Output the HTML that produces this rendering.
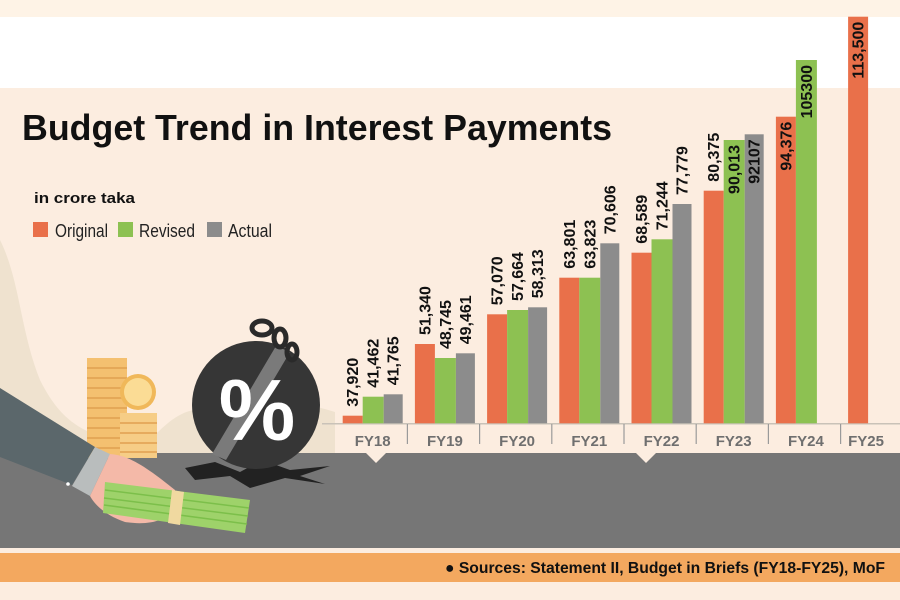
<!DOCTYPE html>
<html><head><meta charset="utf-8"><style>
html,body{margin:0;padding:0;background:#fcede0;}
svg{display:block;}
text{font-family:"Liberation Sans",Arial,sans-serif;}
</style></head><body>
<svg width="900" height="600" viewBox="0 0 900 600" xmlns="http://www.w3.org/2000/svg">
<rect width="900" height="600" fill="#fcede0"/>
<rect width="900" height="17" fill="#fef3e6"/>
<rect y="17" width="900" height="71" fill="#ffffff"/>

<path d="M0,240 C20,280 20,330 40,380 C60,420 80,430 110,440 L0,460 Z" fill="#efe2cf"/>
<path d="M150,440 C170,420 185,405 215,410 C250,400 300,400 335,412 L335,455 L150,455 Z" fill="#efe2cf"/>

<text x="22" y="140" font-size="36" font-weight="bold" fill="#111" textLength="590" lengthAdjust="spacingAndGlyphs">Budget Trend in Interest Payments</text>
<text x="34" y="203" font-size="15" font-weight="bold" fill="#111" textLength="101" lengthAdjust="spacingAndGlyphs">in crore taka</text>
<rect x="33" y="222" width="15" height="15" fill="#e9704a"/>
<text x="55" y="237" font-size="18" fill="#222" textLength="53" lengthAdjust="spacingAndGlyphs">Original</text>
<rect x="118" y="222" width="15" height="15" fill="#8dc152"/>
<text x="139" y="237" font-size="18" fill="#222" textLength="56" lengthAdjust="spacingAndGlyphs">Revised</text>
<rect x="207" y="222" width="15" height="15" fill="#8c8c8c"/>
<text x="228" y="237" font-size="18" fill="#222" textLength="44" lengthAdjust="spacingAndGlyphs">Actual</text>

<line x1="322" y1="423.8" x2="900" y2="423.8" stroke="#c9c2b8" stroke-width="1.5"/>
<g stroke="#9a9a9a" stroke-width="1.2">
<line x1="407.4" y1="424" x2="407.4" y2="444"/><line x1="479.6" y1="424" x2="479.6" y2="444"/>
<line x1="551.8" y1="424" x2="551.8" y2="444"/><line x1="624" y1="424" x2="624" y2="444"/>
<line x1="696.2" y1="424" x2="696.2" y2="444"/><line x1="768.4" y1="424" x2="768.4" y2="444"/>
<line x1="840.6" y1="424" x2="840.6" y2="444"/>
</g>

<g fill="#e9704a">
<rect x="342.7" y="415.7" width="20" height="7.6"/>
<rect x="414.9" y="344" width="20" height="79.3"/>
<rect x="487.1" y="314.3" width="20" height="109"/>
<rect x="559.3" y="277.7" width="20" height="145.6"/>
<rect x="631.5" y="252.7" width="20" height="170.6"/>
<rect x="703.7" y="190.7" width="20" height="232.6"/>
<rect x="775.9" y="116.7" width="20" height="306.6"/>
<rect x="848.1" y="16.7" width="20" height="406.6"/>
</g>
<g fill="#8dc152">
<rect x="362.7" y="396.7" width="21" height="26.6"/>
<rect x="434.9" y="358" width="21" height="65.3"/>
<rect x="507.1" y="310" width="21" height="113.3"/>
<rect x="579.3" y="277.7" width="21" height="145.6"/>
<rect x="651.5" y="239.3" width="21" height="184"/>
<rect x="723.7" y="140" width="21" height="283.3"/>
<rect x="795.9" y="60" width="21" height="363.3"/>
</g>
<g fill="#8c8c8c">
<rect x="383.7" y="394.3" width="19" height="29"/>
<rect x="455.9" y="353.3" width="19" height="70"/>
<rect x="528.1" y="307.3" width="19" height="116"/>
<rect x="600.3" y="243.3" width="19" height="180"/>
<rect x="672.5" y="204" width="19" height="219.3"/>
<rect x="744.7" y="134.3" width="19" height="289"/>
</g>

<g font-size="16" font-weight="bold" fill="#111">
<text transform="translate(358.2,406.7) rotate(-90)">37,920</text>
<text transform="translate(378.7,387.7) rotate(-90)">41,462</text>
<text transform="translate(398.7,385.3) rotate(-90)">41,765</text>
<text transform="translate(430.4,335) rotate(-90)">51,340</text>
<text transform="translate(450.9,349) rotate(-90)">48,745</text>
<text transform="translate(470.9,344.3) rotate(-90)">49,461</text>
<text transform="translate(502.6,305.3) rotate(-90)">57,070</text>
<text transform="translate(523.1,301) rotate(-90)">57,664</text>
<text transform="translate(543.1,298.3) rotate(-90)">58,313</text>
<text transform="translate(574.8,268.7) rotate(-90)">63,801</text>
<text transform="translate(595.3,268.7) rotate(-90)">63,823</text>
<text transform="translate(615.3,234.3) rotate(-90)">70,606</text>
<text transform="translate(647,243.7) rotate(-90)">68,589</text>
<text transform="translate(667.5,230.3) rotate(-90)">71,244</text>
<text transform="translate(687.5,195) rotate(-90)">77,779</text>
<text transform="translate(719.2,181.7) rotate(-90)">80,375</text>
<text transform="translate(739.7,145) rotate(-90)" text-anchor="end">90,013</text>
<text transform="translate(759.7,139.3) rotate(-90)" text-anchor="end">92107</text>
<text transform="translate(791.4,121.7) rotate(-90)" text-anchor="end">94,376</text>
<text transform="translate(811.9,65) rotate(-90)" text-anchor="end">105300</text>
<text transform="translate(863.6,21.7) rotate(-90)" text-anchor="end">113,500</text>
</g>

<g font-size="15" font-weight="bold" fill="#6f6f6f" text-anchor="middle">
<text x="372.7" y="446">FY18</text><text x="444.9" y="446">FY19</text>
<text x="517.1" y="446">FY20</text><text x="589.3" y="446">FY21</text>
<text x="661.5" y="446">FY22</text><text x="733.7" y="446">FY23</text>
<text x="805.9" y="446">FY24</text><text x="866" y="446">FY25</text>
</g>

<path d="M0,453 L366,453 L376,463 L386,453 L636,453 L646,463 L656,453 L900,453 L900,548 L0,548 Z" fill="#767676"/>
<rect y="553" width="900" height="29" fill="#f3a85f"/>
<text x="885" y="573" font-size="16" font-weight="bold" fill="#111" text-anchor="end" textLength="440" lengthAdjust="spacingAndGlyphs">● Sources: Statement II, Budget in Briefs (FY18-FY25), MoF</text>

<rect x="87" y="358" width="40" height="100" fill="#f4c070"/>
<g stroke="#e0a050" stroke-width="1.5">
<line x1="87" y1="368" x2="127" y2="368"/><line x1="87" y1="378" x2="127" y2="378"/>
<line x1="87" y1="388" x2="127" y2="388"/><line x1="87" y1="398" x2="127" y2="398"/>
<line x1="87" y1="408" x2="127" y2="408"/><line x1="87" y1="418" x2="127" y2="418"/>
<line x1="87" y1="428" x2="127" y2="428"/><line x1="87" y1="438" x2="127" y2="438"/>
<line x1="87" y1="448" x2="127" y2="448"/>
</g>
<rect x="120" y="413" width="37" height="45" fill="#f6cd86"/>
<g stroke="#e0a050" stroke-width="1.5">
<line x1="120" y1="423" x2="157" y2="423"/><line x1="120" y1="433" x2="157" y2="433"/>
<line x1="120" y1="443" x2="157" y2="443"/><line x1="120" y1="452" x2="157" y2="452"/>
</g>
<circle cx="138" cy="392" r="18" fill="#f0b85a"/>
<circle cx="138" cy="392" r="14" fill="#fbdc95"/>

<path d="M185,468 L215,462 L240,472 L262,460 L290,470 L330,466 L300,476 L325,484 L285,478 L250,488 L230,476 L195,480 Z" fill="#222"/>
<circle cx="256" cy="405" r="64" fill="#363636"/>
<path d="M276,346 L290,352 L226,460 L212,454 Z" fill="#7a7a7a"/>
<text x="257" y="440" font-size="86" font-weight="bold" fill="#fff" text-anchor="middle">%</text>
<g fill="none" stroke="#2a2a2a" stroke-width="5">
<ellipse cx="262" cy="328" rx="10" ry="7"/>
<ellipse cx="280" cy="338" rx="6" ry="9"/>
<ellipse cx="292" cy="352" rx="5" ry="8"/>
</g>

<path d="M0,388 L95,447 L72,485 L0,457 Z" fill="#5b676b"/>
<path d="M95,447 L110,454 L90,496 L72,486 Z" fill="#b9bdbd"/>
<circle cx="68" cy="484" r="1.8" fill="#fff"/>
<path d="M110,454 C130,455 150,470 175,490 L178,505 C170,520 150,526 125,522 C105,515 95,505 90,496 Z" fill="#f4b9a8"/>
<path d="M105,482 L250,500 L245,533 L103,513 Z" fill="#9ed26a"/>
<g stroke="#7cbf4a" stroke-width="1.5">
<line x1="105" y1="490" x2="249" y2="508"/><line x1="104" y1="498" x2="248" y2="516"/>
<line x1="104" y1="505" x2="247" y2="524"/>
</g>
<path d="M172,490 L184,492 L180,525 L168,523 Z" fill="#f0d9a0"/>
</svg>
</body></html>
